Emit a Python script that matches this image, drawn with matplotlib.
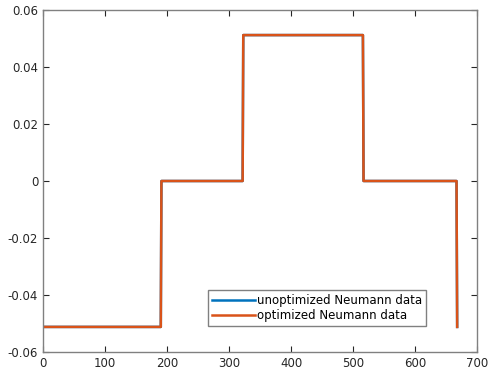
import numpy as np
import matplotlib.pyplot as plt

# piecewise-constant Neumann data: last index of each segment and its value
seg_end = [190, 322, 516, 667, 668]

unopt_val = [-0.0512, 0.0, 0.0512, 0.0, -0.0512]
opt_val = [-0.0512, 0.0, 0.0512, 0.0, -0.0512]

xticks = [0, 100, 200, 300, 400, 500, 600, 700]
yticks = [-0.06, -0.04, -0.02, 0, 0.02, 0.04, 0.06]
ytick_labels = ["-0.06", "-0.04", "-0.02", "0", "0.02", "0.04", "0.06"]


def build(ends, vals):
    lengths = np.diff([0] + ends)
    y = np.repeat(vals, lengths)
    x = np.arange(1, len(y) + 1)
    return x, y


plt.rcParams.update({"font.family": "DejaVu Sans", "font.size": 8.5})
fig = plt.figure(figsize=(4.94, 3.72), dpi=100)
ax = fig.add_axes([43 / 494, 20 / 372, 434 / 494, 342 / 372])

x1, y1 = build(seg_end, unopt_val)
x2, y2 = build(seg_end, opt_val)
ax.plot(x1, y1, color="#0072BD", lw=1.8, label="unoptimized Neumann data")
ax.plot(x2, y2, color="#D95319", lw=1.8, label="optimized Neumann data")

ax.set_xlim(0, 700)
ax.set_ylim(-0.06, 0.06)
ax.set_xticks(xticks)
ax.set_yticks(yticks)
ax.set_yticklabels(ytick_labels)
ax.tick_params(direction="in", top=True, right=True, length=4, width=0.8,
               colors="#262626", labelcolor="#262626")
for s in ax.spines.values():
    s.set_color("#808080")
    s.set_linewidth(1.0)

leg = ax.legend(loc="lower left", bbox_to_anchor=(165 / 434, 26 / 342),
                handlelength=3.6, borderpad=0.35, labelspacing=0.15,
                handletextpad=0.2, borderaxespad=0, fancybox=False,
                framealpha=1)
leg.get_frame().set_edgecolor("#808080")
leg.get_frame().set_linewidth(1.0)

fig.savefig("out.png", dpi=100)
